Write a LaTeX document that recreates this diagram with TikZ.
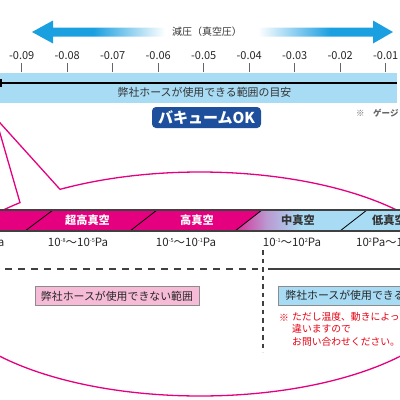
\documentclass[tikz,border=0pt]{standalone}
\usepackage{fontspec}
\setmainfont{Noto Sans CJK JP}
\usepackage{xcolor}
\usetikzlibrary{positioning}

\definecolor{vacmag}{HTML}{E4007F}
\definecolor{hoseblue}{HTML}{A8DBF4}
\definecolor{okblue}{HTML}{1D4F9C}
\definecolor{arrowblue}{HTML}{1A9FE0}
\definecolor{ngpink}{HTML}{F6BBD7}
\definecolor{notered}{HTML}{E60012}
\definecolor{linegray}{HTML}{404040}
\colorlet{vacmix}{vacmag!80!hoseblue}
\colorlet{vaclav}{vacmag!30!hoseblue}

\pgfdeclarehorizontalshading{fadeleft}{100bp}{color(0bp)=(arrowblue); color(25bp)=(arrowblue); color(48bp)=(arrowblue); color(75bp)=(white); color(100bp)=(white)}
\pgfdeclarehorizontalshading{faderight}{100bp}{color(0bp)=(white); color(25bp)=(white); color(52bp)=(arrowblue); color(75bp)=(arrowblue); color(100bp)=(arrowblue)}
\pgfdeclarehorizontalshading{midvac}{100bp}{color(0bp)=(vacmag); color(25bp)=(vacmix); color(37bp)=(vaclav); color(50bp)=(hoseblue); color(100bp)=(hoseblue)}

\newcommand{\pw}[1]{\raisebox{3.6pt}{\fontsize{5.5}{6}\selectfont #1}}

\begin{document}
\begin{tikzpicture}[x=1pt, y=-1pt,
    hosetext/.style={font=\fontsize{10.9}{13}\selectfont, text=black!80, inner sep=0pt},
    ticklbl/.style={font=\fontsize{11}{13}\selectfont, text=black!85, inner sep=0pt},
    tickmark/.style={draw=black!60, line width=0.9pt},
    classlbl/.style={font=\bfseries\fontsize{11.2}{13}\selectfont, inner sep=0pt},
    rangelbl/.style={font=\fontsize{11.5}{13}\selectfont, text=black!85, inner sep=0pt},
    rangebox/.style={draw=black!45, line width=0.7pt, font=\fontsize{10.9}{13}\selectfont, text=black!85, minimum height=19pt, inner xsep=6pt},
    divline/.style={draw=black, line width=0.8pt},
    barline/.style={draw=linegray, line width=1.2pt},
    callout/.style={draw=vacmag, line width=1.3pt},
    notetext/.style={font=\fontsize{9.8}{12.5}\selectfont, text=notered, inner sep=0pt, align=left}]
    \useasboundingbox (0,0) rectangle (400,400);
    \clip (0,0) rectangle (400,400);

    % callout bubble
    \coordinate (tip) at (-4.4,118);
    \draw[callout] (200,284) ++(133.4:262pt and 112pt)
        arc[start angle=133.4, end angle=482.3, x radius=262pt, y radius=112pt]
        -- (tip) -- cycle;

    % pressure arrows
    \shade[shading=fadeleft] (32,32) -- (53,20.5) -- (53,27.5) -- (165,27.5)
        -- (165,36.5) -- (53,36.5) -- (53,43.5) -- cycle;
    \shade[shading=faderight] (393,32) -- (373,20.5) -- (373,27.5) -- (258,27.5)
        -- (258,36.5) -- (373,36.5) -- (373,43.5) -- cycle;
    \node[font=\fontsize{10}{12}\selectfont, text=black!80] (title) at (207,32) {減圧（真空圧）};

    % scale
    \foreach \v [count=\i from 0] in {-0.09,-0.08,-0.07,-0.06,-0.05,-0.04,-0.03,-0.02,-0.01} {
        \pgfmathsetmacro{\tx}{21.7+45.5*\i}
        \node[ticklbl] (lbl\i) at (\tx,56) {\v};
        \draw[tickmark] (\tx,63) -- (\tx,72);
    }

    % usable range bar
    \fill[hoseblue] (-2,73) rectangle (397,103);
    \draw[line width=1.6pt] (1,83) -- (397,83);
    \draw[line width=1.2pt] (1,79) -- (1,87);
    \node[hosetext] (hoserange) at (204.5,92) {弊社ホースが使用できる範囲の目安};
    \node[fill=okblue, rounded corners=4pt, minimum width=109pt, minimum height=21pt,
          inner sep=0pt, text=white, font=\bfseries\fontsize{15}{17}\selectfont]
          (vacok) at (206.5,117.5) {バキュームOK};
    \node[font=\bfseries\fontsize{8.5}{10}\selectfont, text=black!60, anchor=west, inner sep=0pt]
          (gauge) at (356,113) {※　ゲージ};

    % vacuum classes
    \fill[vacmag] (-2,210) -- (262,210) -- (235,231) -- (-2,231) -- cycle;
    \shade[shading=midvac] (262,210) -- (367,210) -- (340,231) -- (235,231) -- cycle;
    \fill[hoseblue] (367,210) -- (402,210) -- (402,231) -- (340,231) -- cycle;
    \foreach \a/\b in {53/25,157/130,262/235,367/340}
        \draw[divline] (\a,210) -- (\b,231);
    \draw[barline] (-2,210) -- (402,210) (-2,231) -- (402,231);

    \node[classlbl, text=white]    (uhv) at (87.5,220.5) {超高真空};
    \node[classlbl, text=white]    (hv)  at (197,220.5)  {高真空};
    \node[classlbl, text=black!80] (mv)  at (298,220.5)  {中真空};
    \node[classlbl, text=black!80] (lv)  at (389,220.5)  {低真空};

    \node[rangelbl, anchor=east] (r0) at (4.5,242) {〜10\pw{-8}Pa};
    \node[rangelbl] (r1) at (78,242)  {10\pw{-8}〜10\pw{-5}Pa};
    \node[rangelbl] (r2) at (186,242) {10\pw{-5}〜10\pw{-1}Pa};
    \node[rangelbl] (r3) at (292,242) {10\pw{-1}〜10\pw{2}Pa};
    \node[rangelbl, anchor=west] (r4) at (356,242) {10\pw{2}Pa〜10\pw{5}Pa};

    % usable / not usable
    \draw[linegray, line width=1.6pt, dash pattern=on 7pt off 6pt] (5,269) -- (258,269);
    \draw[linegray, line width=1.6pt] (268,269) -- (402,269);
    \draw[linegray, line width=1.4pt, dash pattern=on 4.5pt off 4pt] (263,250) -- (263,352);

    \node[rangebox, fill=ngpink, minimum width=162pt] (ngbox) at (117,296) {弊社ホースが使用できない範囲};
    \node[rangebox, fill=hoseblue, anchor=west, inner xsep=7pt] (okbox) at (278,295.5) {弊社ホースが使用できる範囲};

    \node[notetext] (mark) at (284,318) {※};
    \node[notetext, anchor=north west] (note) at (292,312)
        {ただし温度、動きによって\\違いますので\\お問い合わせください。};
\end{tikzpicture}
\end{document}
